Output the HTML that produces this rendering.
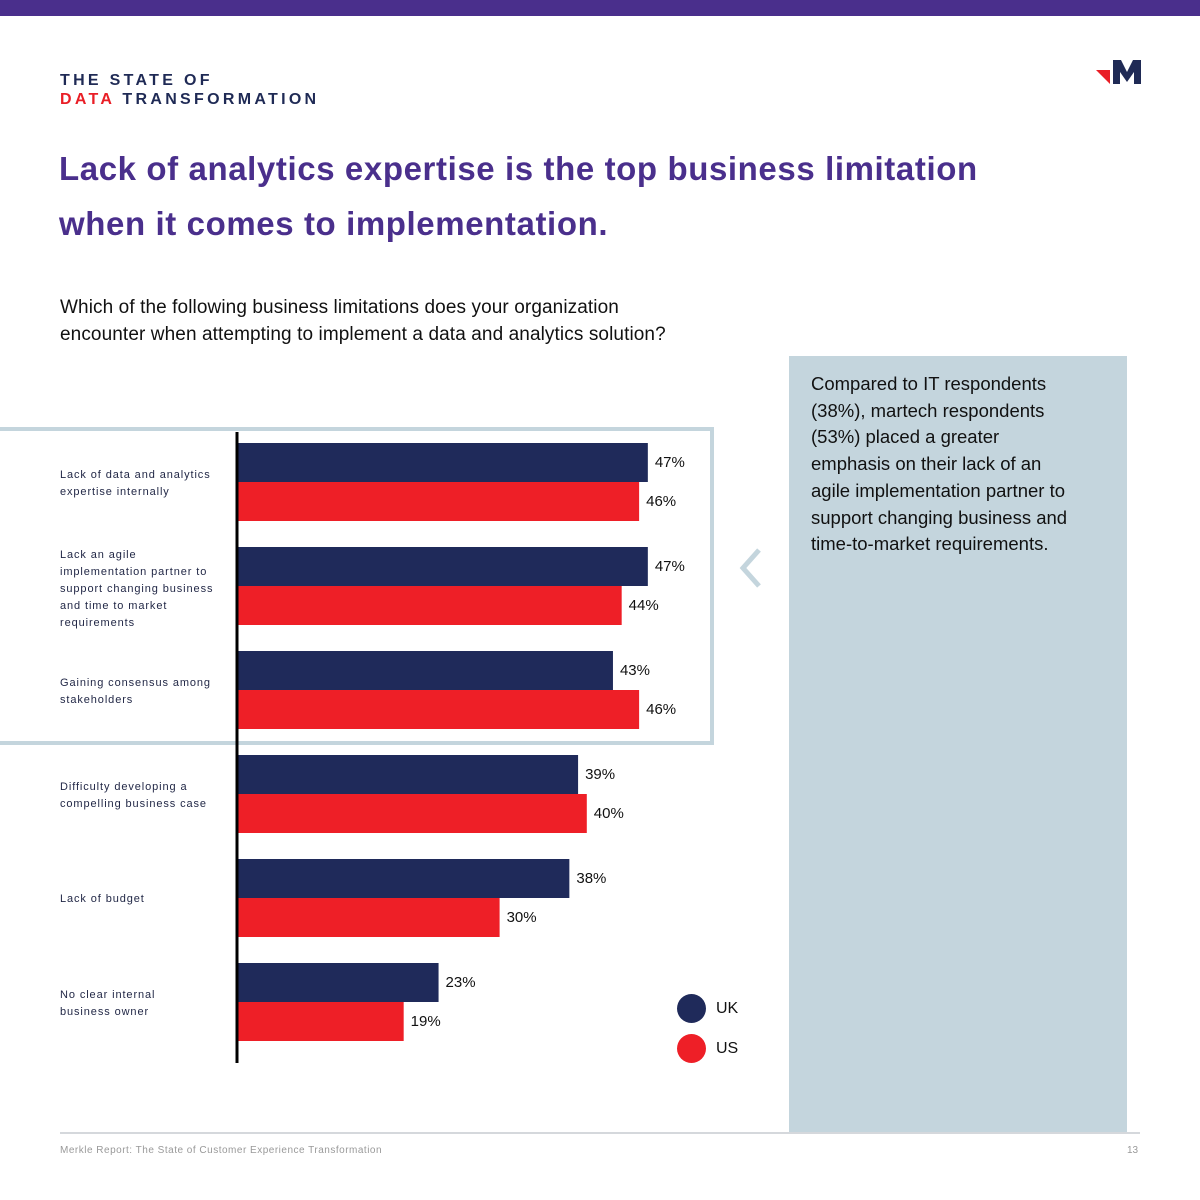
<!DOCTYPE html>
<html><head><meta charset="utf-8"><style>
body{margin:0;width:1200px;height:1200px;background:#fff;position:relative;overflow:hidden;font-family:"Liberation Sans",sans-serif;}
.abs{position:absolute;}
.lbl{position:absolute;left:60px;font-size:11px;line-height:17px;color:#1f2544;letter-spacing:0.9px;}
</style></head><body>
<div class="abs" style="left:0;top:0;width:1200px;height:16px;background:#4a2f8c"></div>
<div class="abs" style="left:60px;top:71px;font-size:16px;font-weight:bold;letter-spacing:3.3px;line-height:19px;color:#1f2a55">THE STATE OF<br><span style="color:#e91e26">DATA</span> TRANSFORMATION</div>
<svg class="abs" style="left:1090px;top:58px" width="56" height="30">
<polygon points="6,12 20,12 20,26" fill="#e91e26"/>
<polygon points="23,2 31,2 37,14 43,2 51,2 51,26 44,26 44,14 37,24 30,14 30,26 23,26" fill="#1f2a55"/>
</svg>
<div class="abs" style="left:59px;top:141px;font-size:33px;font-weight:bold;line-height:55px;letter-spacing:0.6px;color:#4a2f8c">Lack of analytics expertise is the top business limitation<br>when it comes to implementation.</div>
<div class="abs" style="left:60px;top:294px;font-size:19px;line-height:27px;color:#111;letter-spacing:0.1px">Which of the following business limitations does your organization<br>encounter when attempting to implement a data and analytics solution?</div>
<div class="abs" style="left:789px;top:356px;width:338px;height:778px;background:#c4d5dd"></div>
<div class="abs" style="left:811px;top:371px;width:310px;font-size:18.5px;line-height:26.7px;color:#111;white-space:nowrap">Compared to IT respondents<br>(38%), martech respondents<br>(53%) placed a greater<br>emphasis on their lack of an<br>agile implementation partner to<br>support changing business and<br>time-to-market requirements.</div>
<div class="abs" style="left:-10px;top:427px;width:716px;height:310px;border:4px solid #c4d5dd"></div>
<svg class="abs" style="left:735px;top:546px" width="30" height="44"><polyline points="24,4 8,22 24,40" fill="none" stroke="#c4d5dd" stroke-width="5"/></svg>
<svg id="chart" class="abs" style="left:0;top:0" width="1200" height="1200"></svg>
<div class="lbl" style="top:467px">Lack of data and analytics<br>expertise internally</div>
<div class="lbl" style="top:547px">Lack an agile<br>implementation partner to<br>support changing business<br>and time to market<br>requirements</div>
<div class="lbl" style="top:675px">Gaining consensus among<br>stakeholders</div>
<div class="lbl" style="top:779px">Difficulty developing a<br>compelling business case</div>
<div class="lbl" style="top:891px">Lack of budget</div>
<div class="lbl" style="top:987px">No clear internal<br>business owner</div>
<div class="abs" style="left:677px;top:994px;font-size:16px;color:#111"><span style="display:inline-block;width:29px;height:29px;border-radius:50%;background:#1f2a5a;vertical-align:middle"></span><span style="margin-left:10px;vertical-align:middle">UK</span></div>
<div class="abs" style="left:677px;top:1034px;font-size:16px;color:#111"><span style="display:inline-block;width:29px;height:29px;border-radius:50%;background:#ee1f27;vertical-align:middle"></span><span style="margin-left:10px;vertical-align:middle">US</span></div>
<div class="abs" style="left:60px;top:1132px;width:1080px;height:2px;background:#d5d8dc"></div>
<div class="abs" style="left:60px;top:1145px;font-size:10px;color:#999;letter-spacing:0.5px">Merkle Report: The State of Customer Experience Transformation</div>
<div class="abs" style="left:1127px;top:1145px;font-size:10px;color:#999">13</div>
<script>
const categories=["Lack of data and analytics expertise internally","Lack an agile implementation partner","Gaining consensus among stakeholders","Difficulty developing a compelling business case","Lack of budget","No clear internal business owner"];
const ukValues=[47,47,43,39,38,23];
const usValues=[46,44,46,40,30,19];
const svg=document.getElementById('chart');
const NS='http://www.w3.org/2000/svg';
const x0=238,pxPer=8.72,rowTop=443,pitch=104,bh=39;
const xs=v=>x0+v*pxPer;
const ys=i=>rowTop+i*pitch;
function add(tag,attrs){const e=document.createElementNS(NS,tag);for(const k in attrs)e.setAttribute(k,attrs[k]);svg.appendChild(e);return e;}
categories.forEach((c,i)=>{
  [[ukValues,'#1f2a5a','uk',0],[usValues,'#ee1f27','us',bh]].forEach(([arr,col,s,off])=>{
    const r=add('rect',{x:x0,y:ys(i)+off,width:xs(arr[i])-x0,height:bh,fill:col});
    
    
    const t=add('text',{x:xs(arr[i])+7,y:ys(i)+off+24,'font-size':15,fill:'#111','font-family':'Liberation Sans, sans-serif'});
    t.textContent=arr[i]+'%';
    
    
  });
});
const ax=add('line',{x1:237,y1:432,x2:237,y2:1063,stroke:'#000','stroke-width':3});


</script>
</body></html>
